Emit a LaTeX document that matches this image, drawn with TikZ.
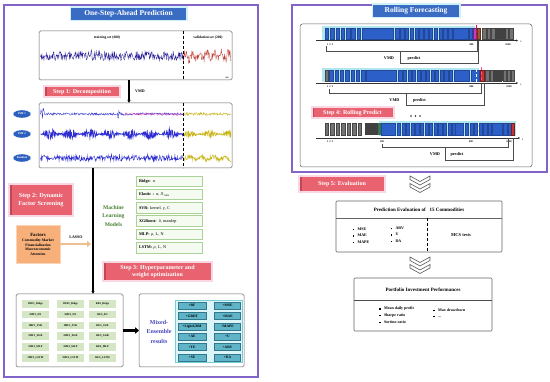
\documentclass[tikz,border=0pt]{standalone}
\usepackage{fontspec}
\setmainfont{Liberation Serif}
\usetikzlibrary{arrows.meta,shapes.geometric,calc}
\definecolor{frameP}{RGB}{130,100,200}
\definecolor{titleB}{RGB}{58,108,196}
\definecolor{titleHalo}{RGB}{205,242,250}
\definecolor{stepR}{RGB}{232,98,112}
\definecolor{stepD}{RGB}{196,70,84}
\definecolor{stepHalo}{RGB}{250,215,228}
\definecolor{navyS}{RGB}{40,30,150}
\definecolor{redS}{RGB}{190,60,50}
\definecolor{blueS}{RGB}{45,45,210}
\definecolor{yelS}{RGB}{200,180,20}
\definecolor{ellB}{RGB}{45,95,190}
\definecolor{factO}{RGB}{247,176,122}
\definecolor{lassoO}{RGB}{238,192,145}
\definecolor{mlG}{RGB}{70,130,50}
\definecolor{mbBorder}{RGB}{170,210,150}
\definecolor{mbFill}{RGB}{246,251,242}
\definecolor{imfG}{RGB}{212,230,195}
\definecolor{ensT}{RGB}{70,70,190}
\definecolor{ensPanel}{RGB}{220,245,248}
\definecolor{ensPanelB}{RGB}{120,205,215}
\definecolor{ensItem}{RGB}{95,180,200}
\definecolor{ensItemB}{RGB}{50,120,140}
\definecolor{barB}{RGB}{45,95,200}
\definecolor{barBg}{RGB}{175,230,240}
\definecolor{barG}{RGB}{115,115,115}
\definecolor{barDG}{RGB}{65,65,65}
\definecolor{barMag}{RGB}{190,60,200}
\definecolor{barBrown}{RGB}{150,90,50}
\definecolor{barRed}{RGB}{200,50,50}
\definecolor{barGreen}{RGB}{50,120,80}
\definecolor{boxGrey}{RGB}{100,100,100}
\tikzset{
  purpleframe/.style={draw=frameP, line width=1.1pt},
  titlebox/.style={fill=titleB, text=white, inner sep=0pt, outer sep=0pt,
    font=\bfseries\fontsize{7.5}{8}\selectfont, preaction={draw=titleHalo, line width=3pt}},
  stepbox/.style={fill=stepR, text=white, inner sep=0pt, outer sep=0pt, align=center,
    font=\bfseries\fontsize{6}{7}\selectfont, preaction={draw=stepHalo, line width=4pt},
    path picture={\fill[stepD] (path picture bounding box.north west) rectangle ([xshift=1.5pt]path picture bounding box.south west);}},
  panel/.style={draw=boxGrey, line width=0.5pt, rounded corners=1.5pt, inner sep=0pt, outer sep=0pt},
  lbl/.style={inner sep=0pt, font=\bfseries\fontsize{#1}{#1}\selectfont},
  imfell/.style={ellipse, fill=ellB, draw=white, line width=0.3pt, text=white, inner sep=0pt,
    minimum width=18pt, minimum height=8pt, font=\bfseries\fontsize{2.8}{3}\selectfont},
  mbox/.style={draw=mbBorder, fill=mbFill, line width=0.6pt, minimum width=66pt, minimum height=10.5pt,
    inner sep=0pt, text width=60pt, align=left, font=\fontsize{4.2}{4.2}\selectfont},
  imf/.style={fill=imfG, inner sep=0pt, minimum width=27pt, minimum height=7.5pt,
    font=\bfseries\fontsize{2.7}{3}\selectfont},
  eit/.style={fill=ensItem, draw=ensItemB, line width=0.4pt, inner sep=0pt, minimum height=7pt,
    text=black, font=\bfseries\fontsize{3.6}{3.8}\selectfont},
  bb/.style={fill=barB, draw=barB!75!black, line width=0.2pt},
  gb/.style={fill=barG, draw=barG!60!black, line width=0.2pt},
  taxis/.style={line width=0.4pt, draw=black!80, -{Stealth[length=2pt,width=2pt]}},
  br/.style={line width=0.4pt, draw=black!70},
  tk/.style={inner sep=0pt, font=\bfseries\fontsize{2.6}{3}\selectfont},
  chev/.style={draw=black!65, fill=white, line width=0.6pt, line join=miter},
  bul/.style={inner sep=0pt, anchor=west, font=\bfseries\fontsize{4}{4}\selectfont},
  ebox/.style={draw=boxGrey, line width=0.6pt, rounded corners=1pt, inner sep=0pt, outer sep=0pt},
}
\begin{document}
\begin{tikzpicture}[x=1pt,y=-1pt]
\fill[white] (0,0) rectangle (550,382);
\useasboundingbox (0,0) rectangle (550,382);

%================ LEFT PANEL =================
\draw[purpleframe] (4,5) rectangle (258,377);
\node[titlebox, minimum width=115pt, minimum height=12pt] (t1) at (128.5,14) {One-Step-Ahead Prediction};

% top chart
\node[panel, minimum width=193pt, minimum height=49pt] (chart) at (135.5,55.5) {};
\pgfmathsetseed{11}
\draw[navyS, line width=0.35pt] plot[domain=40.5:183, samples=290] (\x, {56 + 4.5*rand + 9*rand*rand*rand*rand*rand});
\draw[redS, line width=0.35pt] plot[domain=183:231, samples=110] (\x, {56 + 3*sin(\x*50) + 4.5*rand});
\draw[densely dashed, line width=0.4pt] ($(chart.north west)+(144,0)$) -- ($(chart.south west)+(144,0)$);
\node[lbl=3.6] (trl) at (107,37.5) {training set (600)};
\node[lbl=3.6] (vll) at (208,37.5) {validation set (200)};
\node[lbl=2] (c800) at (227,78) {800};

% step 1
\node[stepbox, minimum width=74pt, minimum height=9pt] (s1) at (82,92) {Step 1: Decomposition};
\node[lbl=4] (vmd0) at (140,91) {VMD};

% decomposition box
\node[panel, minimum width=193pt, minimum height=65pt] (dec) at (135.5,135.5) {};
\draw[line width=1.3pt, -{Latex[length=3pt,width=3.5pt]}] ($(chart.south west)+(90,0)$) -- ($(dec.north west)+(90,0)$);
% IMF1
\draw[blueS, line width=0.35pt] plot[domain=40.5:183, samples=290] (\x, {114 + (1.2 + 5*(abs(\x-42)<2) + 5*(abs(\x-119)<1.5))*rand});
\draw[magenta!70, line width=0.3pt] plot[domain=125:182, samples=80] (\x, {114 + 1.3*rand});
\draw[yelS, line width=0.35pt] plot[domain=183:231, samples=100] (\x, {114 + 1.5*rand});
% IMF2
\draw[blueS, line width=0.5pt] plot[domain=40.5:183, samples=480] (\x, {134 + (0.8 + 5*pow(sin(\x*9),2))*rand});
\draw[yelS, line width=0.45pt] plot[domain=183:231, samples=160] (\x, {134 + (0.8 + 3*pow(sin(\x*9),2))*rand});
% Residual
\draw[blueS, line width=0.4pt] plot[domain=40.5:183, samples=300] (\x, {158 + 2.8*rand + 3.5*rand*rand*rand});
\draw[yelS, line width=0.4pt] plot[domain=183:231, samples=110] (\x, {158 + 2.5*rand + 1.5*sin(\x*30)});
\draw[densely dashed, line width=0.4pt] ($(dec.north west)+(144,0)$) -- ($(dec.south west)+(144,0)$);
\node[imfell] (e1) at (22,114) {IMF 1};
\node[imfell] (e2) at (22,134) {IMF 2};
\node[imfell] (e3) at (22,158) {Residual};

% step 2 and factors
\node[stepbox, minimum width=62pt, minimum height=30pt, font=\bfseries\fontsize{6.2}{8}\selectfont] (s2) at (41,200) {Step 2: Dynamic\\Factor Screening};
\node[fill=factO, draw=factO!55!white, line width=0.8pt, minimum width=44pt, minimum height=38pt, inner sep=0pt, align=center,
  font=\bfseries\fontsize{3.7}{4.4}\selectfont] (fac) at (38,244)
  {{\fontsize{4.8}{6}\selectfont Factors}\\[1.5pt]Commodity Market\\Financialization\\Macroeconomic\\Attention};
\coordinate (lend) at (91,244);
\draw[lassoO, line width=2.6pt, -{Triangle[length=4pt,width=6.5pt]}] (fac.east) -- (lend);
\node[lbl=4] (lasso) at (76,237.5) {LASSO};

% ML models
\node[inner sep=0pt, text=mlG, align=center, font=\bfseries\fontsize{5.6}{8.6}\selectfont] (ml) at (113.5,216) {Machine\\Learning\\Models};
\node[mbox] (m1) at (169,181.5) {\textbf{Ridge:} \textit{α}};
\node[mbox] (m2) at (169,194.5) {\textbf{Elastic :} \textit{α}, \textit{l}1\raisebox{-0.6pt}{\fontsize{2.8}{3}\selectfont\textit{ratio}}};
\node[mbox] (m3) at (169,208) {\textbf{SVR:} kernel, \textit{γ}, C};
\node[mbox] (m4) at (169,221) {\textbf{XGBoost:} \textit{δ}, maxdep};
\node[mbox] (m5) at (169,234.5) {\textbf{MLP:} \textit{ρ}, L, N};
\node[mbox] (m6) at (169,248) {\textbf{LSTM:} \textit{ρ}, L, N};

% step 3
\node[stepbox, minimum width=107pt, minimum height=17pt, font=\bfseries\fontsize{6}{7}\selectfont] (s3) at (157.5,271.5) {Step 3: Hyperparameter and\\weight optimization};

% IMF table
\node[panel, minimum width=107pt, minimum height=73pt] (tbl) at (69.5,330.5) {};
\draw[line width=1.3pt, -{Latex[length=3pt,width=3.5pt]}] ($(dec.south west)+(54,0)$) -- ($(tbl.north west)+(77,0)$);
\foreach \m [count=\r] in {Ridge,EN,SVR,XGB,MLP,LSTM} {
  \node[imf] (ia\r) at (35.5, {293+\r*10.8}) {IMF1\_\m};
  \node[imf] (ib\r) at (70.5, {293+\r*10.8}) {IMF2\_\m};
  \node[imf] (ic\r) at (102.5, {293+\r*10.8}) {RES\_\m};
}

% ensemble
\node[panel, minimum width=105pt, minimum height=73pt] (ens) at (191.5,330.5) {};
\draw[line width=2.6pt, -{Triangle[length=4pt,width=6.5pt]}] (tbl.east) -- (ens.west);
\node[draw=ensPanelB, fill=ensPanel, line width=0.5pt, minimum width=67pt, minimum height=62pt, inner sep=0pt] (pan) at (208.5,331) {};
\node[inner sep=0pt, text=ensT, align=center, font=\bfseries\fontsize{6}{9.5}\selectfont] (mix) at (159,331.5) {Mixed-\\Ensemble\\results};
\foreach \a/\b [count=\r] in {+RF/+MSE,+GBDT/+MAE,+LightGBM/+MAPE,+AE/+U,+TE/+ARV,+SE/+DA} {
  \node[eit, minimum width=28pt] (el\r) at (192, {295.5+\r*10.3}) {\a};
  \node[eit, minimum width=26pt] (er\r) at (227.5, {295.5+\r*10.3}) {\b};
}

%================ RIGHT PANEL =================
\draw[purpleframe] (292,5) rectangle (547,172);
\node[panel, minimum width=232pt, minimum height=143pt, rounded corners=2.5pt] (rf) at (416,95.5) {};
\node[titlebox, minimum width=86pt, minimum height=12pt] (t2) at (416,11) {Rolling Forecasting};

% ---- row 1
\fill[barBg] (322,26.5) rectangle (475,40);
\foreach \i in {0,...,6} \draw[bb] ({325+\i*5.3},28) rectangle ++(3.4,11);
\draw[bb] (362.5,28) rectangle (393,39);
\foreach \i in {0,...,11} \draw[bb] ({395.5+\i*4.8},28) rectangle ++(3.3,11);
\draw[bb] (453,28) rectangle (468,39);
\draw[bb] (469.5,28) rectangle ++(3,11);
\draw[fill=barMag, draw=barMag!60!black, line width=0.2pt] (473,28) rectangle (476.3,39);
\draw[fill=barBrown, draw=barBrown!60!black, line width=0.2pt] (476.6,28) rectangle (480.5,39);
\foreach \i in {0,...,6} \draw[gb] ({482.5+\i*4.5},28) rectangle ++(3.2,11);
\fill[barDG] (495,28) rectangle (506,39);
\draw[densely dashed, red!70!magenta, line width=0.4pt] (476.4,25) -- (476.4,40);
\draw[taxis] (316,40.5) -- (518,40.5);
\node[tk] (a1) at (330,44.5) {1\enspace2\enspace3};
\node[tk] (a2) at (471.5,44.5) {800};
\node[tk] (a3) at (508,44.5) {1000};
\node[tk] (a4) at (521,42) {t};
\draw[br] (326,46.5) -- (326,51.5) -- (477.5,51.5) -- (477.5,41);
\draw[br] (400,51.5) -- (400,63.5) -- (478.5,63.5) -- (478.5,41);
\node[lbl=4.2] (v1) at (389,58) {VMD};
\node[lbl=4.2] (p1) at (414,58) {predict};

% ---- row 2
\fill[barBg] (322,68.5) rectangle (479,82);
\draw[gb] (325,70) rectangle ++(3.2,11);
\foreach \i in {0,...,6} \draw[bb] ({329.5+\i*5.3},70) rectangle ++(3.4,11);
\draw[bb] (366.5,70) rectangle (396,81);
\foreach \i in {0,...,11} \draw[bb] ({398.5+\i*4.6},70) rectangle ++(3.2,11);
\draw[bb] (454,70) rectangle (469.5,81);
\draw[bb] (471,70) rectangle (479,81);
\draw[white, densely dashed, line width=0.5pt] (476.5,69) -- (476.5,82);
\draw[fill=barRed, draw=barRed!60!black, line width=0.2pt] (480,70) rectangle (484,81);
\foreach \i in {0,...,6} \draw[gb] ({485.5+\i*4.3},70) rectangle ++(3.1,11);
\fill[barDG] (493,70) rectangle (503,81);
\draw[densely dashed, red!60!magenta!70, line width=0.4pt] (481.5,67) -- (481.5,82);
\draw[taxis] (316,83) -- (518,83);
\node[tk] (b1) at (330,87) {1\enspace2\enspace3};
\node[tk] (b2) at (471.5,87) {800};
\node[tk] (b3) at (509,87) {1000};
\node[tk] (b4) at (521,84.5) {t};
\draw[br] (329.5,89) -- (329.5,93.5) -- (481.5,93.5) -- (481.5,83.5);
\draw[br] (406,93.5) -- (406,105) -- (484.5,105) -- (484.5,83.5);
\node[lbl=4.2] (v2) at (394.5,100) {VMD};
\node[lbl=4.2] (p2) at (419.5,100) {predict};

% step 4 and dots
\node[stepbox, minimum width=80pt, minimum height=9pt] (s4) at (352.5,113) {Step 4: Rolling Predict};
\fill[black!85] (411,116) circle (0.9) (415.5,116) circle (0.9) (420,116) circle (0.9);

% ---- row 3
\fill[barBg] (379,121.5) rectangle (516,136);
\foreach \i in {0,...,6} \draw[gb] ({325+\i*5.5},123) rectangle ++(3.4,12);
\fill[barDG] (364.5,123) rectangle (378,135);
\fill[barGreen] (378,123) rectangle (381,135);
\draw[bb] (381,123) rectangle (395,135);
\foreach \i in {0,...,12} \draw[bb] ({397+\i*4.6},123) rectangle ++(3.2,12);
\draw[bb] (455,123) rectangle (463,135);
\foreach \i in {0,...,5} \draw[bb] ({465+\i*4.6},123) rectangle ++(3.2,12);
\draw[bb] (492,123) rectangle (502,135);
\foreach \i in {0,1} \draw[bb] ({503.5+\i*4.1},123) rectangle ++(3.1,12);
\draw[fill=barRed, draw=barRed!60!black, line width=0.2pt] (511.5,123) rectangle (514.5,135);
\draw[white, densely dashed, line width=0.5pt] (478,122) -- (478,136);
\draw[taxis] (316,138) -- (520,138);
\node[tk] (c1) at (330,142) {1\enspace2\enspace3};
\node[tk] (c2) at (382,142) {200};
\node[tk] (c3) at (471,142) {800};
\node[tk] (c4) at (509,142) {1000};
\node[tk] (c5) at (522.5,139.5) {t};
\draw[br] (382,144) -- (382,147) -- (508.5,147) -- (508.5,138.5);
\draw[br] (445,147) -- (445,160) -- (513,160) -- (513,138.5);
\node[lbl=4.2] (v3) at (435,154) {VMD};
\node[lbl=4.2] (p3) at (457,154) {predict};

%================ EVALUATION =================
\node[stepbox, minimum width=84pt, minimum height=14pt] (s5) at (342,184.5) {Step 5: Evaluation};
\foreach \yy in {176,183.5}
  \draw[chev] (410,\yy) -- (420,\yy+5.5) -- (430,\yy) -- (430,\yy+3.5) -- (420,\yy+9) -- (410,\yy+3.5) -- cycle;

\node[ebox, minimum width=166pt, minimum height=51pt] (pe) at (419,226.5) {};
\draw[line width=0.6pt, boxGrey] ($(pe.north west)+(0,17)$) -- ($(pe.north east)+(0,17)$);
\draw[densely dashed, line width=0.4pt] ($(pe.north west)+(91,17)$) -- ($(pe.south west)+(91,0)$);
\node[lbl=5] (peh) at (419,209.5) {Prediction Evaluation of \ \ 15 Commodities};
\node[bul] (q1) at (352.5,229) {\rule{1.6pt}{1.6pt}\hspace{3.2pt}MSE};
\node[bul] (q2) at (352.5,235.5) {\rule{1.6pt}{1.6pt}\hspace{3.2pt}MAE};
\node[bul] (q3) at (352.5,242) {\rule{1.6pt}{1.6pt}\hspace{3.2pt}MAPE};
\node[bul] (q4) at (390.5,228) {\rule{1.6pt}{1.6pt}\hspace{3.2pt}ARV};
\node[bul] (q5) at (390.5,234.5) {\rule{1.6pt}{1.6pt}\hspace{3.2pt}U};
\node[bul] (q6) at (390.5,241) {\rule{1.6pt}{1.6pt}\hspace{3.2pt}DA};
\node[lbl=4.5] (mcs) at (461,235) {MCS tests};

\foreach \yy in {257,264.5}
  \draw[chev] (410,\yy) -- (420,\yy+5.5) -- (430,\yy) -- (430,\yy+3.5) -- (420,\yy+9) -- (410,\yy+3.5) -- cycle;

\node[ebox, minimum width=138pt, minimum height=53pt] (pf) at (423,304.5) {};
\draw[line width=1pt, black!70] ($(pf.north west)+(0,23)$) -- ($(pf.north east)+(0,23)$);
\node[lbl=5] (pfh) at (423,290) {Portfolio Investment Performances};
\node[bul] (r1) at (379,309) {\rule{1.6pt}{1.6pt}\hspace{3.2pt}Mean daily profit};
\node[bul] (r2) at (379,315.5) {\rule{1.6pt}{1.6pt}\hspace{3.2pt}Sharpe ratio};
\node[bul] (r3) at (379,322) {\rule{1.6pt}{1.6pt}\hspace{3.2pt}Sortino ratio};
\node[bul] (r4) at (433,310) {\rule{1.6pt}{1.6pt}\hspace{3.2pt}Max drawdown};
\node[bul] (r5) at (433,316.5) {\rule{1.6pt}{1.6pt}\hspace{3.2pt}...};
\end{tikzpicture}
\end{document}
